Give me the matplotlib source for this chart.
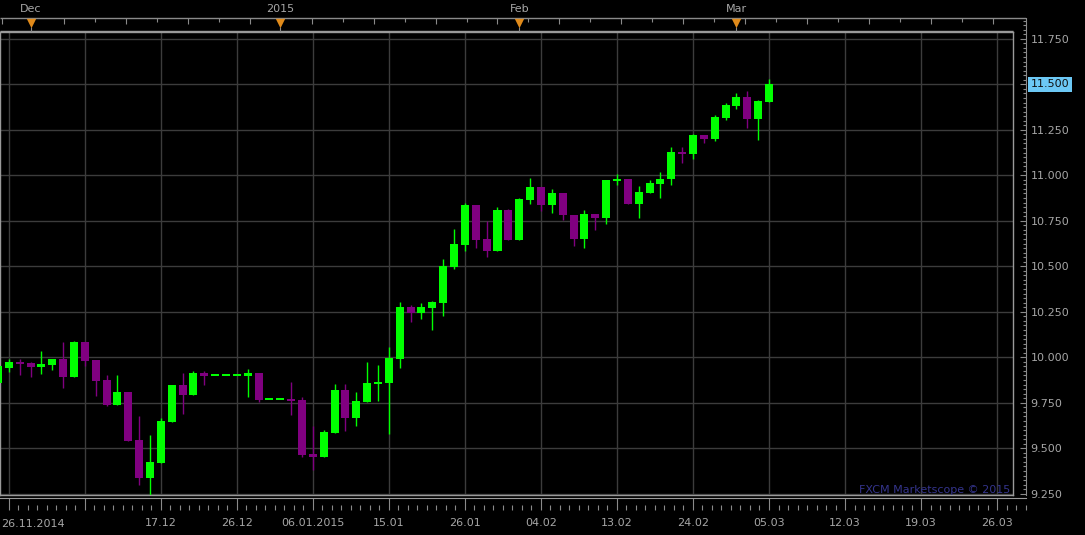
import numpy as np
import matplotlib
matplotlib.use("Agg")
import matplotlib.pyplot as plt
from matplotlib.ticker import MultipleLocator, FixedLocator, FuncFormatter
import matplotlib.transforms as mtransforms

W, H = 1085, 535

# daily candles, one per trading day (index 0 = 26.11.2014)
opens = [9.86, 9.943, 9.974, 9.969, 9.948, 9.959, 9.991, 9.893, 10.084, 9.985,
         9.875, 9.74, 9.809, 9.546, 9.338, 9.42, 9.646, 9.848, 9.795, 9.914,
         9.903, 9.903, 9.903, 9.899, 9.914, 9.769, 9.769, 9.771, 9.765, 9.469,
         9.452, 9.584, 9.82, 9.667, 9.754, 9.853, 9.859, 9.992, 10.276, 10.245,
         10.273, 10.298, 10.498, 10.619, 10.837, 10.65, 10.586, 10.81, 10.646, 10.866,
         10.936, 10.838, 10.902, 10.78, 10.651, 10.79, 10.766, 10.972, 10.98, 10.844,
         10.904, 10.953, 10.977, 11.128, 11.119, 11.221, 11.2, 11.315, 11.381, 11.43,
         11.31, 11.403]
highs = [9.96, 9.99, 9.99, 9.975, 10.035, 9.993, 10.084, 10.09, 10.084, 9.985,
         9.903, 9.903, 9.809, 9.677, 9.573, 9.666, 9.848, 9.914, 9.925, 9.925,
         9.903, 9.903, 9.903, 9.936, 9.914, 9.769, 9.769, 9.864, 9.782, 9.62,
         9.60, 9.853, 9.853, 9.81, 9.974, 9.958, 10.057, 10.304, 10.287, 10.298,
         10.31, 10.54, 10.705, 10.848, 10.837, 10.75, 10.826, 10.815, 10.875, 10.985,
         10.936, 10.925, 10.902, 10.78, 10.81, 10.79, 10.974, 11.007, 10.98, 10.94,
         10.974, 11.018, 11.155, 11.155, 11.227, 11.221, 11.331, 11.397, 11.452, 11.463,
         11.414, 11.53]
lows = [9.85, 9.92, 9.905, 9.89, 9.91, 9.932, 9.833, 9.893, 9.954, 9.79,
        9.734, 9.74, 9.542, 9.30, 9.24, 9.42, 9.646, 9.69, 9.795, 9.85,
        9.903, 9.903, 9.903, 9.78, 9.756, 9.769, 9.769, 9.683, 9.45, 9.38,
        9.452, 9.584, 9.595, 9.623, 9.754, 9.76, 9.579, 9.943, 10.196, 10.212,
        10.152, 10.228, 10.487, 10.586, 10.60, 10.553, 10.586, 10.646, 10.646, 10.844,
        10.806, 10.795, 10.756, 10.61, 10.60, 10.70, 10.73, 10.947, 10.844, 10.767,
        10.9, 10.877, 10.948, 11.069, 11.09, 11.177, 11.188, 11.304, 11.364, 11.26,
        11.194, 11.403]
closes = [9.95, 9.974, 9.965, 9.948, 9.963, 9.991, 9.893, 10.084, 9.981, 9.871,
          9.74, 9.809, 9.542, 9.338, 9.425, 9.65, 9.848, 9.795, 9.914, 9.899,
          9.903, 9.903, 9.903, 9.914, 9.767, 9.769, 9.769, 9.762, 9.463, 9.454,
          9.59, 9.82, 9.667, 9.76, 9.859, 9.864, 9.996, 10.276, 10.245, 10.276,
          10.304, 10.502, 10.623, 10.837, 10.646, 10.586, 10.81, 10.646, 10.87, 10.936,
          10.838, 10.902, 10.78, 10.651, 10.79, 10.766, 10.974, 10.98, 10.844, 10.908,
          10.957, 10.98, 11.128, 11.119, 11.221, 11.2, 11.32, 11.386, 11.43, 11.31,
          11.408, 11.501]

grid_idx = [1, 8, 15, 22, 29, 36, 43, 50, 57, 64, 71, 78, 85, 92]
date_labels = ["", "", "17.12", "26.12", "06.01.2015", "15.01", "26.01", "04.02",
               "13.02", "24.02", "05.03", "12.03", "19.03", "26.03"]
first_label = "26.11.2014"
month_idx = [3, 26, 48, 68]
month_labels = ["Dec", "2015", "Feb", "Mar"]
price_ticks = [9.25, 9.5, 9.75, 10.0, 10.25, 10.5, 10.75, 11.0, 11.25, 11.5, 11.75]
last_price = 11.5

BG = "#000000"
GRID = "#3c3c3c"
FRAME = "#9a9a9a"
RULER = "#8a8a8a"
TEXT = "#a6a6a6"
UP = "#00ff00"
DOWN = "#800080"
ORANGE = "#e08a1a"


def px_to_idx(px):
    return 1 + (px - 8.8) / 10.86


def py_to_price(py):
    return 10.0 + (357.3 - py) / 182.0


def add_axes_px(fig, left, top, right, bottom):
    return fig.add_axes([left / W, 1 - bottom / H, (right - left) / W, (bottom - top) / H])


def draw_main(fig):
    ax = add_axes_px(fig, 0, 32, 1013, 495)
    ax.set_facecolor(BG)
    ax.set_xlim(px_to_idx(0), px_to_idx(1013))
    ax.set_ylim(py_to_price(495), py_to_price(32))
    ax.set_xticks(grid_idx)
    ax.set_yticks(price_ticks)
    ax.tick_params(length=0, labelbottom=False, labelleft=False)
    ax.grid(True, color=GRID, linewidth=1.0)
    ax.set_axisbelow(True)
    for s in ax.spines.values():
        s.set_color(FRAME)
        s.set_linewidth(1.0)

    o = np.array(opens)
    h = np.array(highs)
    l = np.array(lows)
    c = np.array(closes)
    idx = np.arange(len(o))
    colors = np.where(c >= o, UP, DOWN)
    # flat days still get a visible 2px dash
    body_h = np.maximum(np.abs(c - o), 0.011)
    body_lo = (o + c) / 2 - body_h / 2
    ax.vlines(idx, l, h, colors=colors, linewidth=1.0, zorder=3)
    ax.bar(idx, body_h, bottom=body_lo, width=0.74, color=colors, linewidth=0, zorder=4)

    ax.text(1010 / 1013, 5 / 463, "FXCM Marketscope \u00a9 2015", transform=ax.transAxes,
            ha="right", va="center", fontsize=8, color="#34348c")


def draw_right_ruler(fig):
    ax = add_axes_px(fig, 1013, 18, 1026, 495)
    ax.set_facecolor("none")
    ax.set_ylim(py_to_price(495), py_to_price(18))
    ax.set_xticks([])
    for name, s in ax.spines.items():
        s.set_visible(name == "right")
    ax.spines["right"].set_color(RULER)
    ax.yaxis.tick_right()
    ax.set_yticks(price_ticks)
    ax.yaxis.set_minor_locator(MultipleLocator(0.025))
    ax.yaxis.set_major_formatter(FuncFormatter(
        lambda v, p: "" if abs(v - last_price) < 1e-6 else f"{v:.3f}"))
    ax.tick_params(axis="y", which="major", direction="in", length=4.5, width=0.8,
                   color=RULER, labelcolor=TEXT, labelsize=8, pad=3.4)
    ax.tick_params(axis="y", which="minor", direction="in", length=2.2, width=0.8,
                   color=RULER)
    trans = mtransforms.blended_transform_factory(ax.transAxes, ax.transData)
    ax.text(1 + 4.7 / 13, last_price, f"{last_price:.3f}", transform=trans,
            ha="left", va="center", fontsize=8, color="#101010",
            bbox=dict(facecolor="#6cc8f5", edgecolor="none", pad=1.8))


def draw_bottom_ruler(fig):
    ax = add_axes_px(fig, 0, 497.5, 1026, 510)
    ax.set_facecolor("none")
    ax.set_xlim(px_to_idx(0), px_to_idx(1026))
    ax.set_yticks([])
    for name, s in ax.spines.items():
        s.set_visible(name == "top")
    ax.spines["top"].set_color(FRAME)
    ax.xaxis.set_major_locator(FixedLocator(grid_idx))
    ax.set_xticklabels(date_labels)
    ax.xaxis.set_minor_locator(FixedLocator(np.arange(1, 95, 0.875)))
    ax.tick_params(axis="x", which="major", direction="in", length=9, width=0.8,
                   color=RULER, labelcolor=TEXT, labelsize=8, pad=6)
    ax.tick_params(axis="x", which="minor", direction="in", length=3.6, width=0.8,
                   color=RULER)
    fig.text(1 / W, 1 - 524 / H, first_label, ha="left", va="center",
             fontsize=8, color=TEXT)


def draw_top_strip(fig):
    ax = add_axes_px(fig, 0, 0, 1026, 32)
    ax.set_facecolor("none")
    ax.set_xlim(px_to_idx(0), px_to_idx(1026))
    ax.set_ylim(32, 0)
    ax.axis("off")
    x0, x1 = px_to_idx(0), px_to_idx(1013)
    ax.hlines(18.3, x0, px_to_idx(1026), color=RULER, linewidth=1.0)
    ax.hlines(30.6, x0, x1, color=FRAME, linewidth=1.0)
    ticks = np.arange(0.4, 94, 2.85)
    lengths = np.where(np.arange(len(ticks)) % 2 == 0, 24.0, 21.5)
    ax.vlines(ticks, 18.3, lengths, color=RULER, linewidth=0.8)
    ax.vlines(month_idx, 27, 32, color=RULER, linewidth=0.8)
    ax.scatter(month_idx, [23.0] * len(month_idx), marker="v", s=46,
               color=ORANGE, linewidths=0, zorder=3)
    for i, lab in zip(month_idx, month_labels):
        ax.text(i, 9, lab, ha="center", va="center", fontsize=8, color=TEXT)


def main():
    fig = plt.figure(figsize=(W / 100, H / 100), dpi=100, facecolor=BG)
    draw_main(fig)
    draw_right_ruler(fig)
    draw_bottom_ruler(fig)
    draw_top_strip(fig)
    fig.savefig("out.png", dpi=100, facecolor=BG)


if __name__ == '__main__':
    main()
